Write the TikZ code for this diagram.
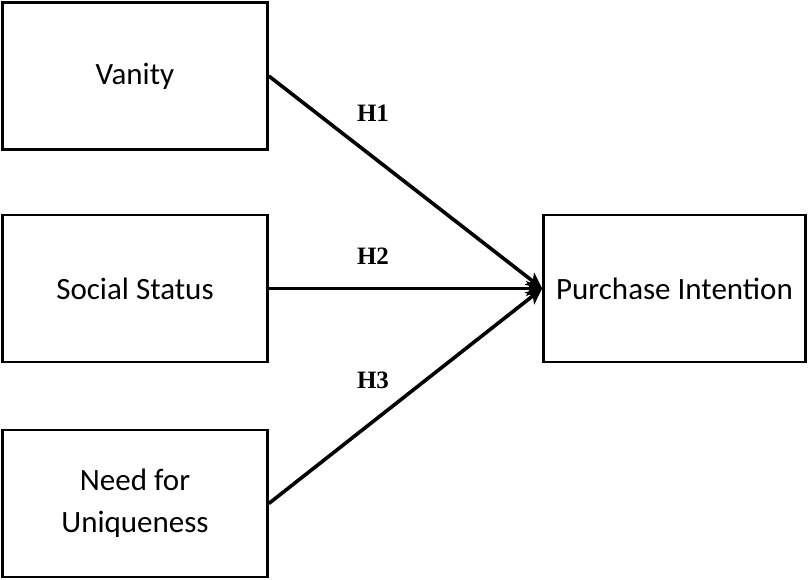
\documentclass[tikz,border=0pt]{standalone}
\usepackage{fontspec}
\setmainfont{Carlito}
\newfontfamily\hfont{Liberation Serif}
\usetikzlibrary{arrows.meta}
\tikzset{
  box/.style={draw=black, line width=2.6pt, minimum width=265pt, minimum height=147pt, inner sep=0pt, align=center, font=\fontsize{31}{42}\selectfont},
  conn/.style={line width=3.6pt, -{Stealth[length=16pt,width=15pt,inset=4pt]}},
  hyp/.style={font=\hfont\bfseries\fontsize{25}{28}\selectfont}
}
\begin{document}
\begin{tikzpicture}[x=1pt,y=-1pt]
\useasboundingbox (0,0) rectangle (808,579);
\node[box] (v) at (135,76) {Vanity};
\node[box] (s) at (135,288.5) {Social Status};
\node[box] (n) at (135,503.5) {Need for\\Uniqueness};
\node[box, minimum width=262pt] (p) at (674.5,288.5) {Purchase Intention};
\draw[conn] (v.east) -- (p.west);
\draw[conn] (s.east) -- (p.west);
\draw[conn] (n.east) -- (p.west);
\node[hyp] (h1) at (373,113) {H1};
\node[hyp] (h2) at (373,256) {H2};
\node[hyp] (h3) at (373,380) {H3};
\end{tikzpicture}
\end{document}
